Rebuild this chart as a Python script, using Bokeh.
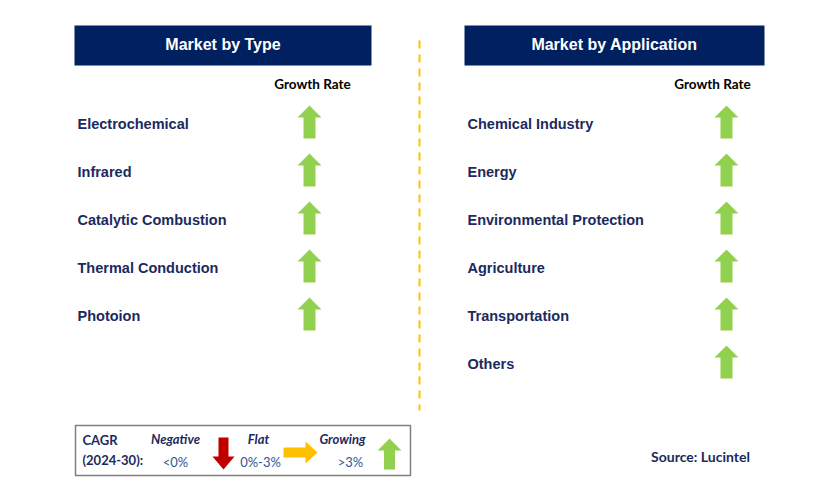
from bokeh.plotting import figure
from bokeh.models import Range1d
from bokeh.core.properties import value
from bokeh.embed import file_html
from bokeh.resources import INLINE

# ---- data ----
type_titles = ["Market by Type", "Market by Application"]
type_categories = ["Electrochemical", "Infrared", "Catalytic Combustion", "Thermal Conduction", "Photoion"]
type_growth = ["up", "up", "up", "up", "up"]
app_categories = ["Chemical Industry", "Energy", "Environmental Protection", "Agriculture", "Transportation", "Others"]
app_growth = ["up", "up", "up", "up", "up", "up"]
legend_labels = ["Negative", "Flat", "Growing"]
legend_ranges = ["<0%", "0%-3%", ">3%"]
source_text = "Source: Lucintel"

NAVY = "#002060"
TXT = "#1B2A5E"
GREEN = "#92D050"
RED = "#C00000"
ORANGE = "#FFC000"

W, H = 813, 486
p = figure(width=W, height=H, output_backend="svg", toolbar_location=None,
           x_range=Range1d(0, W), y_range=Range1d(H, 0),
           min_border=0, outline_line_color=None)
p.axis.visible = False
p.grid.visible = False
p.background_fill_color = "white"
p.border_fill_color = "white"

# headers
hx = [222.5, 614]
hw = [297, 300]
p.rect(x=hx, y=[45, 45], width=hw, height=[40, 40], fill_color=NAVY, line_color=None)
p.text(x=hx, y=[44, 44], text=type_titles, text_color="white", text_font=value("Liberation Sans"),
       text_font_style="bold", text_font_size="16px", text_align="center", text_baseline="middle")

# divider
p.line(x=[419, 419], y=[40, 410], line_color=ORANGE, line_width=2, line_dash="8 6")

# growth rate labels
p.text(x=[312, 712], y=[83, 83], text=["Growth Rate", "Growth Rate"], text_color="black",
       text_font=value("Lato"), text_font_style="bold", text_font_size="13.5px",
       text_align="center", text_baseline="middle")

row0, step = 124, 48

def up_arrow(cx, cy, hw=12, sw=6, top=-17, base=-5, bottom=16):
    xs = [cx, cx + hw, cx + sw, cx + sw, cx - sw, cx - sw, cx - hw]
    ys = [cy + top, cy + base, cy + base, cy + bottom, cy + bottom, cy + base, cy + base]
    return xs, ys

def draw_column(cats, growth, tx, ax):
    ys = [row0 + i * step for i in range(len(cats))]
    p.text(x=[tx] * len(cats), y=[y - 1 for y in ys], text=cats, text_color=TXT,
           text_font=value("Liberation Sans"), text_font_style="bold", text_font_size="14.5px",
           text_align="left", text_baseline="middle")
    axs, ays = [], []
    for y, g in zip(ys, growth):
        if g == "up":
            a, b = up_arrow(ax, y - 2)
            axs.append(a); ays.append(b)
    p.patches(xs=axs, ys=ays, fill_color=GREEN, line_color=None)

draw_column(type_categories, type_growth, 77, 309)
draw_column(app_categories, app_growth, 467, 726)

# legend box
p.rect(x=[242.5], y=[450], width=[335], height=[50], fill_color="white", line_color="#7F7F7F", line_width=1.5)
p.text(x=[82, 82], y=[439, 459], text=["CAGR", "(2024-30):"], text_color=TXT,
       text_font=value("Lato"), text_font_style="bold", text_font_size="13px",
       text_align="left", text_baseline="middle")
p.text(x=[175, 258, 342], y=[438, 438, 438], text=legend_labels, text_color=TXT,
       text_font=value("Lato"), text_font_style="bold italic", text_font_size="13px",
       text_align="center", text_baseline="middle")
p.text(x=[175, 260, 350], y=[461, 461, 461], text=legend_ranges, text_color="#2F5597",
       text_font=value("Lato"), text_font_size="13px",
       text_align="center", text_baseline="middle")
# red down arrow
rx, ry = 223, 453
p.patches(xs=[[rx - 5, rx + 5, rx + 5, rx + 11, rx, rx - 11, rx - 5]],
          ys=[[ry - 16, ry - 16, ry + 3, ry + 3, ry + 16, ry + 3, ry + 3]],
          fill_color=RED, line_color=None)
# orange right arrow
ox, oy = 300, 452
p.patches(xs=[[ox - 17, ox + 5, ox + 5, ox + 17, ox + 5, ox + 5, ox - 17]],
          ys=[[oy - 5, oy - 5, oy - 11, oy, oy + 11, oy + 5, oy + 5]],
          fill_color=ORANGE, line_color=None)
# green up arrow
gx, gy = up_arrow(389, 453, hw=12, sw=5.5, top=-15, base=-3, bottom=16)
p.patches(xs=[gx], ys=[gy], fill_color=GREEN, line_color=None)

p.text(x=[700], y=[456], text=[source_text], text_color=TXT, text_font=value("Lato"),
       text_font_style="bold", text_font_size="14px", text_align="center", text_baseline="middle")

open("out.html", "w").write(file_html(p, INLINE))
